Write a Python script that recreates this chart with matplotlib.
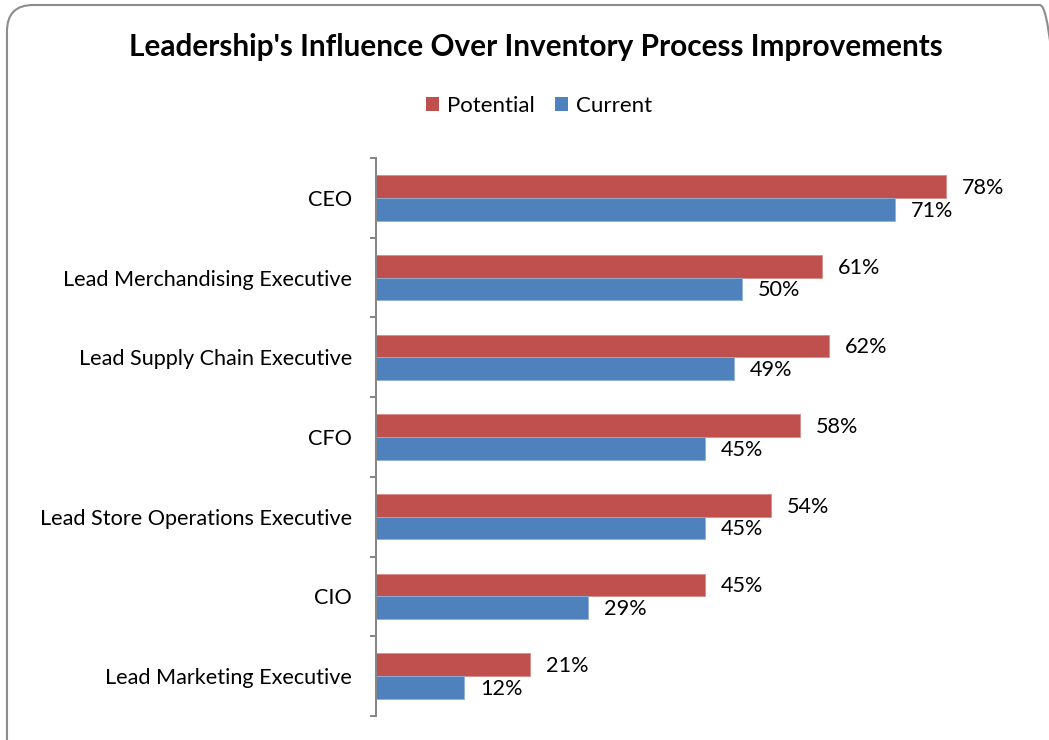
import matplotlib
matplotlib.use("Agg")
import matplotlib.pyplot as plt
from matplotlib.patches import Patch, FancyBboxPatch

categories = ["CEO", "Lead Merchandising Executive", "Lead Supply Chain Executive",
              "CFO", "Lead Store Operations Executive", "CIO", "Lead Marketing Executive"]
potential = [78, 61, 62, 58, 54, 45, 21]
current = [71, 50, 49, 45, 45, 29, 12]
series_names = ["Potential", "Current"]
title = "Leadership's Influence Over Inventory Process Improvements"

RED = "#C0504D"
BLUE = "#4F81BD"
GREY = "#868686"
FONT = "Lato"

plt.rcParams['font.family'] = [FONT, 'DejaVu Sans']

W, H = 1049, 740
fig = plt.figure(figsize=(W / 100, H / 100), dpi=100)

# rounded border
border = FancyBboxPatch((7 / W, -40 / H), (1066 - 7) / W, (735 + 40) / H,
                        boxstyle="round,pad=0,rounding_size=0.025",
                        transform=fig.transFigure, facecolor="none",
                        edgecolor="#8c8c8c", linewidth=1.5, clip_on=False,
                        mutation_aspect=W / H)
fig.patches.append(border)

ax = fig.add_axes([376 / W, 1 - 716 / H, (1034 - 376) / W, (716 - 158) / H])
n = len(categories)
ypos = [n - 1 - i for i in range(n)]
h = 0.285
ax.barh([y + h / 2 for y in ypos], potential, height=h, color=RED, edgecolor="#d98b89", linewidth=0.6)
ax.barh([y - h / 2 for y in ypos], current, height=h, color=BLUE, edgecolor="#8fb0d8", linewidth=0.6)

LBL = 15.6
for y, p, c in zip(ypos, potential, current):
    ax.annotate(f"{p}%", (p, y + h / 2), xytext=(11.5, -1), textcoords="offset points",
                va="center", ha="left", fontsize=LBL, color="black")
    ax.annotate(f"{c}%", (c, y - h / 2), xytext=(11.5, -1), textcoords="offset points",
                va="center", ha="left", fontsize=LBL, color="black")

ax.set_xlim(0, 90)
ax.set_ylim(-0.5, n - 0.5)
ax.set_yticks(ypos)
ax.set_yticklabels(categories, fontsize=LBL)
ax.set_yticks([i - 0.5 for i in range(n + 1)], minor=True)
ax.tick_params(axis="y", which="major", length=0, pad=17.3)
ax.tick_params(axis="y", which="minor", length=4.5, width=1.44, color=GREY)
ax.set_xticks([])
for s in ["top", "right", "bottom"]:
    ax.spines[s].set_visible(False)
ax.spines["left"].set_color(GREY)
ax.spines["left"].set_linewidth(1.44)

fig.text(536 / W, 1 - 47 / H, title, ha="center", va="center", fontsize=21.4, fontweight="bold")

handles = [Patch(facecolor=RED, label=series_names[0]), Patch(facecolor=BLUE, label=series_names[1])]
fig.legend(handles=handles, loc="center", bbox_to_anchor=(539 / W, 1 - 106 / H), ncol=2,
           frameon=False, fontsize=16, handlelength=0.6, handleheight=0.6,
           handletextpad=0.35, columnspacing=0.9)

fig.savefig("out.png", dpi=100)
